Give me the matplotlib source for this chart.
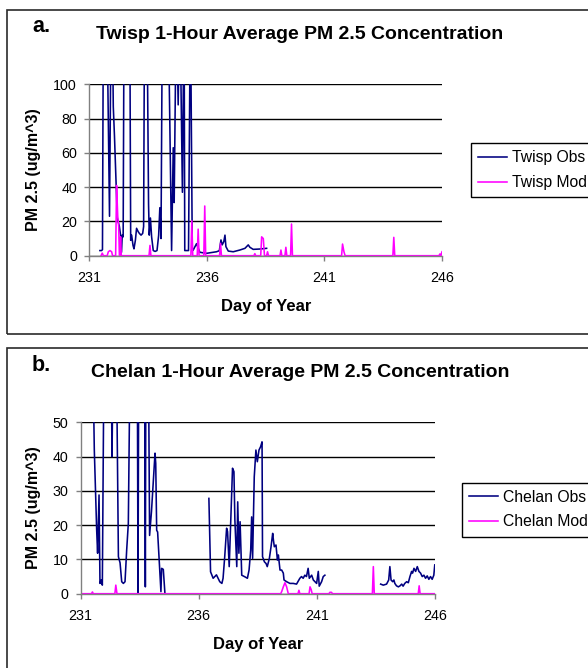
import matplotlib
matplotlib.use('Agg')
import matplotlib.pyplot as plt
import numpy as np
from matplotlib.patches import Rectangle
from matplotlib.lines import Line2D

plt.rcParams['font.family'] = ['Liberation Sans', 'DejaVu Sans']

W, H = 588, 668   # figure size in pixels (dpi 100)

# --- Twisp, hourly PM 2.5 [ug/m^3] (values > 100 are clipped peaks)
twisp_obs_day = [231.45, 231.52, 231.56, 231.60, 231.70, 231.78, 231.86, 231.92, 231.98, 232.02,
                 232.07, 232.19, 232.28, 232.33, 232.37, 232.40, 232.44, 232.48, 232.60, 232.72,
                 232.76, 232.80, 232.86, 232.90, 232.96, 233.01, 233.08, 233.13, 233.20, 233.27,
                 233.31, 233.36, 233.45, 233.52, 233.55, 233.60, 233.65, 233.72, 233.80, 233.88,
                 233.95, 234.00, 234.05, 234.11, 234.30, 234.50, 234.57, 234.61, 234.70, 234.78,
                 234.85, 234.96, 235.03, 235.06, 235.12, 235.22, 235.30, 235.38, 235.42, 235.56,
                 235.70, 235.99, 236.41, 236.53, 236.60, 236.65, 236.72, 236.77, 236.81, 236.91,
                 237.12, 237.40, 237.62, 237.76, 237.83, 237.97, 238.25, 238.54]
twisp_obs_val = [3, 3, 3.5, 150, 200, 110, 23, 130, 140, 87,
                 70, 22, 17, 12, 2, 12, 11, 150, 200, 150,
                 9, 12, 6, 4, 9, 16, 14, 13, 12, 13,
                 17, 180, 150, 30, 12, 22, 11, 3, 2.5, 3,
                 12, 28, 10, 150, 200, 3, 63, 31, 150, 88,
                 150, 37, 150, 3, 3, 3, 150, 3, 3.3, 7,
                 2, 1.4, 2.3, 2.9, 9.2, 6.3, 8.2, 12, 5.3, 2.7,
                 2.3, 3.3, 4.3, 6.3, 4.9, 3.7, 3.9, 4.3]

twisp_mod_day = [231.50, 231.55, 231.60, 231.76, 231.81, 231.88, 231.95, 231.99, 232.12, 232.16,
                 232.21, 232.25, 232.28, 232.30, 232.33, 232.36, 233.54, 233.58, 233.62, 235.32,
                 235.36, 235.40, 235.59, 235.63, 235.67, 235.87, 235.91, 235.95, 236.54, 236.58,
                 236.62, 238.00, 238.04, 238.08, 238.29, 238.33, 238.40, 238.45, 238.54, 238.58,
                 238.62, 239.11, 239.15, 239.19, 239.32, 239.36, 239.40, 239.56, 239.60, 239.64,
                 241.73, 241.77, 241.83, 241.88, 243.91, 243.95, 243.99, 245.87, 245.91, 245.95,
                 246.00]
twisp_mod_val = [0, 1.5, 0, 0, 2.3, 3, 2.3, 0, 0, 41,
                 22.7, 17, 0, 0, 11, 0, 0, 6, 0, 0,
                 20.4, 0, 0, 15.5, 0, 0, 29, 0, 0, 7.2,
                 0, 0, 1.2, 0, 0, 11, 10, 0, 0, 2.3,
                 0, 0, 3.3, 0, 0, 4.9, 0, 0, 18.5, 0,
                 0, 6.8, 2.3, 0, 0, 10.7, 0, 0, 1, 0,
                 2.3]

# --- Chelan (nan = missing observations)
chelan_obs_day = [231.54, 231.58, 231.68, 231.72, 231.78, 231.82, 231.88, 231.92, 231.99, 232.15,
                  232.31, 232.33, 232.36, 232.45, 232.53, 232.60, 232.67, 232.74, 232.81, 232.88,
                  232.95, 233.02, 233.08, 233.25, 233.40, 233.43, 233.47, 233.60, 233.71, 233.74,
                  233.77, 233.88, 233.92, 234.00, 234.15, 234.18, 234.22, 234.26, 234.33, 234.40,
                  234.43, 234.50, 234.57, 236.40, 236.43, 236.50, 236.61, 236.68, 236.75, 236.82,
                  236.89, 236.98, 237.03, 237.10, 237.18, 237.22, 237.29, 237.43, 237.49, 237.53,
                  237.61, 237.65, 237.70, 237.75, 237.82, 237.96, 238.06, 238.13, 238.20, 238.24,
                  238.28, 238.35, 238.42, 238.48, 238.55, 238.62, 238.68, 238.70, 238.78, 238.85,
                  238.90, 238.99, 239.06, 239.13, 239.16, 239.20, 239.27, 239.33, 239.37, 239.44,
                  239.51, 239.58, 239.61, 239.72, 239.86, 240.00, 240.14, 240.28, 240.35, 240.42,
                  240.49, 240.56, 240.63, 240.68, 240.78, 240.85, 240.92, 240.99, 241.06, 241.10,
                  241.20, 241.27, 241.34, 242.50, 243.70, 243.81, 243.95, 244.04, 244.09, 244.14,
                  244.21, 244.26, 244.30, 244.37, 244.45, 244.52, 244.59, 244.65, 244.72, 244.80,
                  244.87, 244.94, 245.01, 245.05, 245.11, 245.18, 245.25, 245.32, 245.39, 245.46,
                  245.53, 245.60, 245.67, 245.74, 245.81, 245.88, 245.95, 245.99]
chelan_obs_val = [60, 42, 18.6, 11.8, 28.8, 3, 4, 2.5, 70, 90,
                  55, 40, 60, 90, 60, 10.8, 9, 3.5, 3, 3.5,
                  12.7, 20.5, 60, 90, 70, 0, 90, 90, 70, 2,
                  90, 60, 17, 24, 41, 38, 18.5, 18, 9, 0.6,
                  7.4, 7.1, 0, np.nan, 27.8, 6.4, 4.5, 5, 5.5, 4.5,
                  3.5, 3, 4.5, 10.8, 19.1, 18.1, 7.9, 36.6, 35.6, 21.5,
                  7.9, 26.8, 11.8, 21, 5.4, 4.9, 4.5, 6.9, 12.7, 22.4,
                  10.3, 34.1, 41.9, 38.5, 41.9, 42.9, 44.3, 10.8, 9.3, 8.8,
                  7.9, 10.3, 13.7, 17.6, 15.7, 13.7, 14.2, 9.8, 11.3, 6.9,
                  6.9, 6, 4, 3.5, 3, 3, 2.8, 4.5, 5, 4.5,
                  5.4, 5, 7.4, 4.5, 5.4, 4, 3.5, 3, 6.5, 2.2,
                  3.5, 5, 5.4, np.nan, 2.8, 2.5, 2.8, 4, 7.9, 4,
                  3.5, 4, 3, 2.3, 2, 2.3, 2.8, 2.2, 3, 3.5,
                  3.2, 5, 6.5, 6, 7.4, 6.5, 7.9, 6.5, 6, 5,
                  5.4, 4.5, 5.2, 4.2, 5, 4.2, 5.4, 8.4]

chelan_mod_day = [231.00, 231.46, 231.50, 231.54, 232.45, 232.49, 232.54, 239.47, 239.51, 239.58,
                  239.65, 239.72, 239.79, 240.20, 240.24, 240.28, 240.67, 240.71, 240.76, 240.80,
                  241.51, 241.55, 241.62, 241.66, 243.35, 243.39, 243.43, 245.29, 245.33, 245.37,
                  246.00]
chelan_mod_val = [0, 0, 0.5, 0, 0, 2.5, 0, 0, 0.6, 2,
                  3.2, 2, 0, 0, 1, 0, 0, 2, 1.2, 0,
                  0, 0.4, 0.4, 0, 0, 7.9, 0, 0, 2.3, 0,
                  0]

x_ticks = [231, 236, 241, 246]
OBS_COLOR = '#000080'
MOD_COLOR = '#FF00FF'


def fx(x):
  return x / W


def fy(y):
  return 1 - y / H


def panel(fig, box, axpx, obs, mod, ymax, ystep, names, title, letter, ylab_y, xlab_x, legtop):
  """box: (top, bottom) of panel frame in px; axpx: (left, right, top, bottom) of axes in px"""
  top, bottom = box
  fig.add_artist(Rectangle((fx(7.3), fy(bottom)), fx(620), (bottom - top) / H,
                           transform=fig.transFigure, fill=False, ec='#2a2a2a', lw=1.2))
  l, r, t, b = axpx
  ax = fig.add_axes([fx(l), fy(b), (r - l) / W, (b - t) / H])
  ax.plot(obs[0], obs[1], color=OBS_COLOR, lw=1.15)
  ax.plot(mod[0], mod[1], color=MOD_COLOR, lw=1.15)
  ax.set_xlim(231, 246)
  ax.set_ylim(0, ymax)
  ax.set_xticks(x_ticks)
  ax.set_yticks(np.arange(0, ymax + 1, ystep))
  ax.yaxis.grid(True, color='black', lw=1.0)
  ax.set_axisbelow(True)
  for s in ['top', 'right']:
    ax.spines[s].set_visible(False)
  for s in ['left', 'bottom']:
    ax.spines[s].set_color('#808080')
    ax.spines[s].set_linewidth(1.0)
  ax.tick_params(axis='both', direction='out', length=3.3, width=1.0, color='#808080', labelsize=10.3)
  ax.tick_params(axis='y', pad=5.5)
  ax.tick_params(axis='x', pad=7.5)

  handles = [Line2D([], [], color=OBS_COLOR, lw=1.15), Line2D([], [], color=MOD_COLOR, lw=1.15)]
  leg = ax.legend(handles, names, loc='upper left', bbox_to_anchor=(fx(legtop[0]), fy(legtop[1])),
                  bbox_transform=fig.transFigure, fontsize=11.3, frameon=True, fancybox=False,
                  edgecolor='black', framealpha=1, handlelength=1.85, handletextpad=0.3,
                  borderpad=0.45, labelspacing=0.62, borderaxespad=0)
  leg.get_frame().set_linewidth(1.0)

  fig.text(fx(300), fy(top + 24.3), title, ha='center', va='center', fontsize=14, fontweight='bold')
  fig.text(fx(41.5), fy(top + 17), letter, ha='center', va='center', fontsize=15.5, fontweight='bold')
  fig.text(fx(33.7), fy(ylab_y), 'PM 2.5 (ug/m^3)', rotation=90, ha='center', va='center',
           fontsize=11.5, fontweight='bold')
  fig.text(fx(xlab_x), fy(b + 50.3), 'Day of Year', ha='center', va='center', fontsize=12, fontweight='bold')
  return ax


fig = plt.figure(figsize=(W / 100, H / 100), dpi=100)
panel(fig, (10, 334), (89.3, 442, 84.3, 255.7), (twisp_obs_day, twisp_obs_val),
      (twisp_mod_day, twisp_mod_val), 100, 20, ['Twisp Obs', 'Twisp Mod'],
      'Twisp 1-Hour Average PM 2.5 Concentration', 'a.', 170, 266.5, (470.7, 143.3))
panel(fig, (348.3, 668.5), (80.6, 435, 422.3, 593.7), (chelan_obs_day, chelan_obs_val),
      (chelan_mod_day, chelan_mod_val), 50, 10, ['Chelan Obs', 'Chelan Mod'],
      'Chelan 1-Hour Average PM 2.5 Concentration', 'b.', 507.5, 257.8, (462, 482.7))

fig.savefig('out.png', dpi=100)
